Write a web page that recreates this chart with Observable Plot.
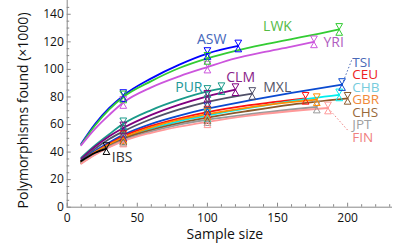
<!DOCTYPE html>
<html><head><meta charset="utf-8">
<script src="https://cdn.jsdelivr.net/npm/d3@7"></script>
<script src="https://cdn.jsdelivr.net/npm/@observablehq/plot@0.6"></script>
<style>body{margin:0;background:#fff} svg{display:block}</style>
</head><body><div id="chart"></div>
<script>
// Populations and their curves (sample size -> polymorphisms found, x1000)
const populations = ["ASW","LWK","YRI","PUR","CLM","MXL","TSI","CEU","CHB","GBR","CHS","JPT","FIN","IBS"];
const sampleSizes = [
  [10,20,30,40,60,80,100,122],
  [10,20,30,40,60,80,100,120,140,160,180,194],
  [10,20,30,40,60,80,100,120,140,160,176],
  [10,20,30,40,60,80,100,110],
  [10,20,30,40,60,80,100,120],
  [10,20,30,40,60,80,100,132],
  [10,20,30,40,60,80,100,130,160,196],
  [10,20,30,40,60,80,100,130,170],
  [10,20,30,40,60,80,100,130,160,194],
  [10,20,30,40,60,80,100,130,178],
  [10,20,30,40,60,80,100,130,160,200],
  [10,20,30,40,60,80,100,130,178],
  [10,20,30,40,60,80,100,130,186],
  [10,20,28]
];
const polymorphisms = [
  [46,60.5,72,81,93.5,103.5,111.5,117],
  [45.5,59.5,71,80,91.5,101,108,113.5,118,122,126,129],
  [45,57,67,76,87,95,101.7,108,112.5,116.5,120],
  [36,45,53,60.5,70.5,78,84,86],
  [35,44,51.5,57.5,67,74.5,80.5,85.3],
  [34,42.5,49.5,55,64,71,76.5,82.5],
  [33.5,41,47,52.5,60.5,66.5,71.5,77.5,83,89],
  [33,40,46,51.5,59,64.5,69,74,79],
  [32.5,39.5,45,50,57,62.5,66.5,72,77,81.5],
  [33,40,45.5,50.5,58,63.5,67.5,72.5,78],
  [32,39,44.5,49.5,56,61,65,70,74.5,79],
  [32,38.5,44,48.5,55,60,63.5,67.5,72.7],
  [31.5,38,43.5,48,54,58.5,62,66.5,72],
  [33.5,39.5,42.5]
];
const markerSizes = [40, 100];
const lineColors = ["#0000ff","#33cc33","#cc55dd","#1a9a8a","#800080","#505068","#0a4ad0","#ff1010","#00eeee","#ff8c00","#8b5a2b","#999999","#ff9999","#000000"];
const labelColors = ["#4466bb","#55bb44","#b05cc0","#229999","#882288","#555566","#4a6ab8","#ee2222","#77ccdd","#f08a3a","#9a6a3a","#a0a0a0","#f08080","#333333"];
// label placement (data coordinates) and anchors
const labelN = [103,150,182.8,96.5,123.7,149.8,203.3,203.3,203.3,203.3,203.3,203.3,203.3,39.2];
const labelV = [122,131.2,119.5,86.5,93.8,87.1,104.6,95.9,86.6,77.8,68.7,59.7,50.7,35.7];
const labelAnchor = ["middle","middle","start","end","middle","middle","start","start","start","start","start","start","start","middle"];
const leaderPops = ["TSI","FIN"];
const leaderEndN = [203.3, 200.9];
const leaderEndV = [107.8, 54.9];
const xTicks = [0,50,100,150,200];
const yTicks = [0,20,40,60,80,100,120,140];
const xMinor = d3.range(0, 231, 10).filter(v => !xTicks.includes(v));
const yMinor = d3.range(0, 150, 5).filter(v => !yTicks.includes(v));

const curve = [];
populations.forEach((p,i) => sampleSizes[i].forEach((n,j) => curve.push({pop:p, n, v: polymorphisms[i][j], color: lineColors[i]})));
const markers = [];
populations.forEach((p,i) => {
  const ns = sampleSizes[i], last = ns.length - 1;
  ns.forEach((n,j) => { if (j === last || markerSizes.includes(n)) markers.push({pop:p, n, v: polymorphisms[i][j], color: lineColors[i]}); });
});
const labels = populations.map((p,i) => ({pop:p, n: labelN[i], v: labelV[i], color: labelColors[i], anchor: labelAnchor[i]}));
const leaders = leaderPops.map((p,k) => {
  const i = populations.indexOf(p), ns = sampleSizes[i];
  return {pop:p, n1: ns[ns.length-1], v1: polymorphisms[i][ns.length-1], n2: leaderEndN[k], v2: leaderEndV[k], color: labelColors[i]};
});

const chart = Plot.plot({
  width: 417, height: 250,
  marginLeft: 66.7, marginRight: 25, marginTop: 0, marginBottom: 43.3,
  style: {fontFamily: "'Open Sans', sans-serif", fontSize: "12px", color: "#111", background: "#fff"},
  x: {domain: [0, 232]},
  y: {domain: [0, 150]},
  marks: [
    Plot.axisX(xMinor, {tickSize: -2.5, tickFormat: () => "", label: null, stroke: "#888"}),
    Plot.axisY(yMinor, {tickSize: -2.5, tickFormat: () => "", label: null, stroke: "#888"}),
    Plot.axisX(xTicks, {tickSize: -4, tickPadding: 10, label: null, stroke: "#888", fontSize: 12, fill: "#111"}),
    Plot.axisY(yTicks, {tickSize: -4, tickPadding: 7.4, label: null, stroke: "#888", fontSize: 12, fill: "#111"}),
    Plot.ruleX([0], {stroke: "#888"}),
    Plot.ruleY([0], {stroke: "#888"}),
    Plot.link(leaders, {x1: "n1", y1: "v1", x2: "n2", y2: "v2", stroke: "color", strokeDasharray: "1.5,2", strokeWidth: 1}),
    Plot.line(curve, {x: "n", y: "v", z: "pop", stroke: "color", strokeWidth: 1.8, curve: "monotone-x"}),
    Plot.dot(markers, {x: "n", y: "v", symbol: "triangle", rotate: 180, r: 2.5, dy: -3.9, stroke: "color", fill: "none", strokeWidth: 1}),
    Plot.dot(markers, {x: "n", y: "v", symbol: "triangle", r: 2.5, dy: 3.9, stroke: "color", fill: "none", strokeWidth: 1}),
    Plot.text(labels.filter(d => d.anchor === "start" && d.n > 200), {x: "n", y: "v", text: "pop", fill: "color", textAnchor: "start", fontSize: 13.5}),
    Plot.text(labels.filter(d => d.anchor === "start" && d.n <= 200), {x: "n", y: "v", text: "pop", fill: "color", textAnchor: "start", fontSize: 14}),
    Plot.text(labels.filter(d => d.anchor === "middle"), {x: "n", y: "v", text: "pop", fill: "color", textAnchor: "middle", fontSize: 14}),
    Plot.text(labels.filter(d => d.anchor === "end"), {x: "n", y: "v", text: "pop", fill: "color", textAnchor: "end", fontSize: 14}),
    Plot.text(["Sample size"], {frameAnchor: "bottom", textAnchor: "middle", lineAnchor: "middle", dy: 27, dx: -5, fontSize: 14, fill: "#111"}),
    Plot.text(["Polymorphisms found (\u00d71000)"], {frameAnchor: "left", textAnchor: "middle", lineAnchor: "middle", rotate: -90, dx: -44, dy: 6.6, fontSize: 14, fill: "#111"})
  ]
});
document.getElementById("chart").appendChild(chart);
</script>
</body></html>
